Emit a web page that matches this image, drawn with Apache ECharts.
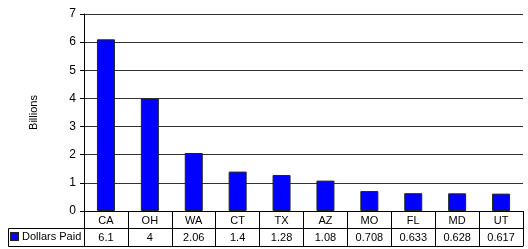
<!DOCTYPE html>
<html>
<head>
<meta charset="utf-8">
<script src="https://cdn.jsdelivr.net/npm/echarts@6/dist/echarts.min.js"></script>
<style>
  html, body { margin: 0; padding: 0; background: #fff; }
  #charts { width: 528px; height: 249px; }
</style>
</head>
<body>
<div id="charts"></div>
<script>
// data
var states = ['CA', 'OH', 'WA', 'CT', 'TX', 'AZ', 'MO', 'FL', 'MD', 'UT'];
var dollarsPaid = [6.1, 4, 2.06, 1.4, 1.28, 1.08, 0.708, 0.633, 0.628, 0.617];
var seriesName = 'Dollars Paid';
var yMin = 0, yMax = 7, yStep = 1;

var font = 'Liberation Sans, Arial, sans-serif';
var lineColor = '#000';

var myChart = echarts.init(document.getElementById('charts'));

var option = {
  animation: false,
  textStyle: { fontFamily: font, color: '#000' },
  grid: { left: 84, right: 5, top: 14, bottom: 38, containLabel: false },
  legend: {
    data: [seriesName],
    left: 10, top: 231,
    icon: 'rect', itemWidth: 7, itemHeight: 7, itemGap: 4,
    padding: 0,
    textStyle: { fontSize: 11, fontFamily: font, color: '#000', padding: [0, 0, 0, -1] }
  },
  xAxis: [
    {
      type: 'category', data: states, position: 'bottom',
      axisLine: { lineStyle: { color: lineColor, width: 1 } },
      axisTick: { show: true, length: 17, interval: 0, lineStyle: { color: lineColor } },
      axisLabel: { fontSize: 11, fontFamily: font, color: '#000', margin: 4, interval: 0 }
    },
    {
      type: 'category', data: dollarsPaid.map(String), position: 'bottom', offset: 17,
      axisLine: { lineStyle: { color: lineColor, width: 1 } },
      axisTick: { show: true, length: 18, interval: 0, lineStyle: { color: lineColor } },
      axisLabel: { fontSize: 11, fontFamily: font, color: '#000', margin: 4, interval: 0 }
    },
    {
      type: 'category', data: states, position: 'bottom', offset: 35,
      axisLine: { lineStyle: { color: lineColor, width: 1 } },
      axisTick: { show: false }, axisLabel: { show: false }
    }
  ],
  yAxis: {
    type: 'value', min: yMin, max: yMax, interval: yStep,
    name: 'Billions', nameLocation: 'middle', nameGap: 45, nameRotate: 90,
    nameTextStyle: { fontSize: 11, fontFamily: font, color: '#000' },
    axisLine: { show: true, lineStyle: { color: lineColor } },
    axisTick: { show: true, length: 4, lineStyle: { color: lineColor } },
    axisLabel: { fontSize: 12, fontFamily: font, color: '#000', margin: 8 },
    splitLine: { lineStyle: { color: '#333', width: 1 } }
  },
  series: [{
    name: seriesName, type: 'bar', data: dollarsPaid,
    barWidth: 18,
    itemStyle: { color: '#0000FF', borderColor: '#222', borderWidth: 1 }
  }],
  graphic: [{
    type: 'polyline',
    shape: { points: [[84, 228.5], [8.5, 228.5], [8.5, 246.5], [84, 246.5]] },
    style: { stroke: lineColor, lineWidth: 1, fill: null }
  }]
};

myChart.setOption(option);
</script>
</body>
</html>
